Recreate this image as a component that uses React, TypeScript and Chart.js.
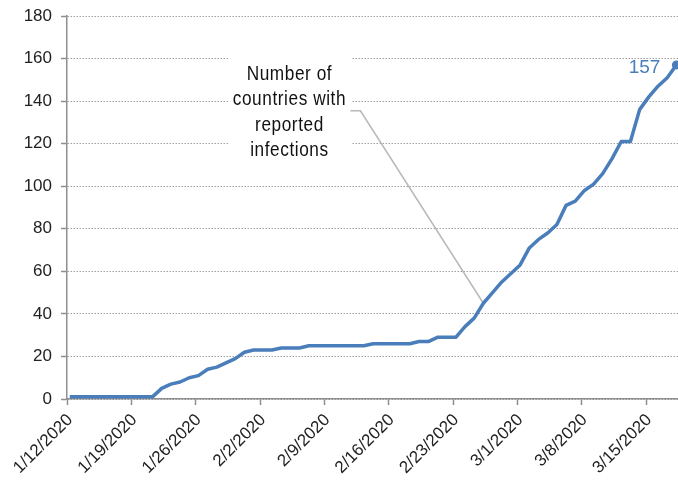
import React, { useEffect, useRef } from "react";
import { Chart, registerables } from "chart.js";

Chart.register(...registerables);

// Number of countries with reported infections, daily from 1/12/2020 to 3/18/2020
const COUNTRIES: number[] = [
  1, 1, 1, 1, 1, 1, 1, 1, 1, 1,
  5, 7, 8, 10, 11, 14, 15, 17, 19, 22,
  23, 23, 23, 24, 24, 24, 25, 25, 25, 25,
  25, 25, 25, 26, 26, 26, 26, 26, 27, 27,
  29, 29, 29, 34, 38, 45, 50, 55, 59, 63,
  71, 75, 78, 82, 91, 93, 98, 101, 106, 113,
  121, 121, 136, 142, 147, 151, 157,
];

// weekly date ticks (every 7 days starting at index 0)
const TICK_LABELS: string[] = [
  "1/12/2020", "1/19/2020", "1/26/2020", "2/2/2020", "2/9/2020",
  "2/16/2020", "2/23/2020", "3/1/2020", "3/8/2020", "3/15/2020",
];
const TICK_STEP_DAYS = 7;

const Y_MIN = 0;
const Y_MAX = 180;
const Y_STEP = 20;

const ANNOTATION_LINES: string[] = ["Number of", "countries with", "reported", "infections"];
const ANNOTATION_ANCHOR = { x: 23.9, y: 150 }; // data coords of first line baseline centre
const LEADER_INDEX = 45; // data point where the leader line ends

const BLUE = "#4A7EBB";
const AXIS = "#8f8f8f";
const GRID = "#a0a0a0";
const TEXT = "#222222";

const annotationPlugin = {
  id: "annot",
  beforeDatasetsDraw(chart: any) {
    const { ctx, scales } = chart;
    const xs = scales.x;
    const ys = scales.y;
    const cx = xs.getPixelForValue(ANNOTATION_ANCHOR.x);
    const by = ys.getPixelForValue(ANNOTATION_ANCHOR.y);
    ctx.save();
    // white text box covering gridlines
    ctx.fillStyle = "#ffffff";
    ctx.fillRect(cx - 61, by - 28, 123, 116);
    // condensed text
    ctx.fillStyle = "#111111";
    ctx.font = '21px "Liberation Sans", Arial, sans-serif';
    ctx.textAlign = "center";
    ctx.textBaseline = "alphabetic";
    try { (ctx as any).letterSpacing = "0.7px"; } catch (e) {}
    const sx = 0.82;
    ANNOTATION_LINES.forEach((line, i) => {
      ctx.save();
      ctx.translate(cx, by + i * 25.4);
      ctx.scale(sx, 1);
      ctx.fillText(line, 0, 0);
      ctx.restore();
    });
    try { (ctx as any).letterSpacing = "0px"; } catch (e) {}
    // leader line
    const px = xs.getPixelForValue(LEADER_INDEX);
    const py = ys.getPixelForValue(COUNTRIES[LEADER_INDEX]);
    ctx.strokeStyle = "#b8b8b8";
    ctx.lineWidth = 1.5;
    ctx.beginPath();
    ctx.moveTo(cx + 61, by + 31);
    ctx.lineTo(cx + 71, by + 31);
    ctx.lineTo(px, py);
    ctx.stroke();
    ctx.restore();
  },
  afterDatasetsDraw(chart: any) {
    const { ctx, scales } = chart;
    const last = COUNTRIES.length - 1;
    const px = scales.x.getPixelForValue(last);
    const py = scales.y.getPixelForValue(COUNTRIES[last]);
    ctx.save();
    ctx.fillStyle = BLUE;
    ctx.font = '19px "Liberation Sans", Arial, sans-serif';
    ctx.textAlign = "right";
    ctx.textBaseline = "alphabetic";
    ctx.fillText(String(COUNTRIES[last]), px - 16, py + 8.5);
    ctx.restore();
  },
};

export default function App() {
  const canvasRef = useRef<HTMLCanvasElement | null>(null);

  useEffect(() => {
    document.body.style.margin = "0";
    document.body.style.overflow = "hidden";
    const canvas = canvasRef.current;
    if (!canvas) return;
    const last = COUNTRIES.length - 1;
    const chart = new Chart(canvas, {
      type: "line",
      data: {
        datasets: [
          {
            data: COUNTRIES.map((v, i) => ({ x: i, y: v })),
            borderColor: BLUE,
            backgroundColor: BLUE,
            borderWidth: 3.5,
            tension: 0,
            pointRadius: (c: any) => (c.dataIndex === last ? 4.5 : 0),
            pointHoverRadius: 0,
            pointBorderWidth: 0,
            borderJoinStyle: "round",
            clip: false as any,
          },
        ],
      },
      options: {
        animation: false,
        responsive: true,
        maintainAspectRatio: false,
        events: [],
        layout: { padding: { top: 16, left: 0, right: 0, bottom: 0 } },
        plugins: {
          legend: { display: false },
          tooltip: { enabled: false },
          title: { display: false },
        },
        scales: {
          x: {
            type: "linear",
            min: -0.3,
            max: 67.1,
            afterBuildTicks: (scale: any) => {
              scale.ticks = TICK_LABELS.map((_, k) => ({ value: k * TICK_STEP_DAYS - 0.3 }));
            },
            afterFit: (scale: any) => {
              scale.height = 88;
            },
            ticks: {
              autoSkip: false,
              minRotation: 45,
              maxRotation: 45,
              padding: 5,
              labelOffset: 3,
              color: TEXT,
              font: { family: '"Liberation Sans", Arial, sans-serif', size: 17 },
              callback: (_v: any, i: number) => TICK_LABELS[i],
            },
            grid: {
              drawOnChartArea: false,
              drawTicks: true,
              tickLength: 6,
              tickColor: AXIS,
              tickWidth: 1.5,
            },
            border: { color: AXIS, width: 1.5 },
          },
          y: {
            min: Y_MIN,
            max: Y_MAX,
            afterFit: (scale: any) => {
              scale.width = 67;
              scale.paddingTop = 0;
              scale.paddingBottom = 0;
            },
            ticks: {
              stepSize: Y_STEP,
              padding: 9,
              color: TEXT,
              font: { family: '"Liberation Sans", Arial, sans-serif', size: 17 },
            },
            grid: {
              color: GRID,
              lineWidth: 1,
              tickLength: 6,
              tickColor: AXIS,
              tickWidth: 1.5,
              tickBorderDash: [] as any,
            } as any,
            border: { color: AXIS, width: 1.5, dash: [1.5, 1.5] },
          },
        },
      },
      plugins: [annotationPlugin],
    });
    return () => chart.destroy();
  }, []);

  return (
    <div style={{ position: "fixed", left: 0, top: 0, width: 678, height: 487, overflow: "hidden", background: "#fff" }}>
      <div style={{ position: "relative", width: 691, height: 487 }}>
        <canvas ref={canvasRef} />
      </div>
    </div>
  );
}
